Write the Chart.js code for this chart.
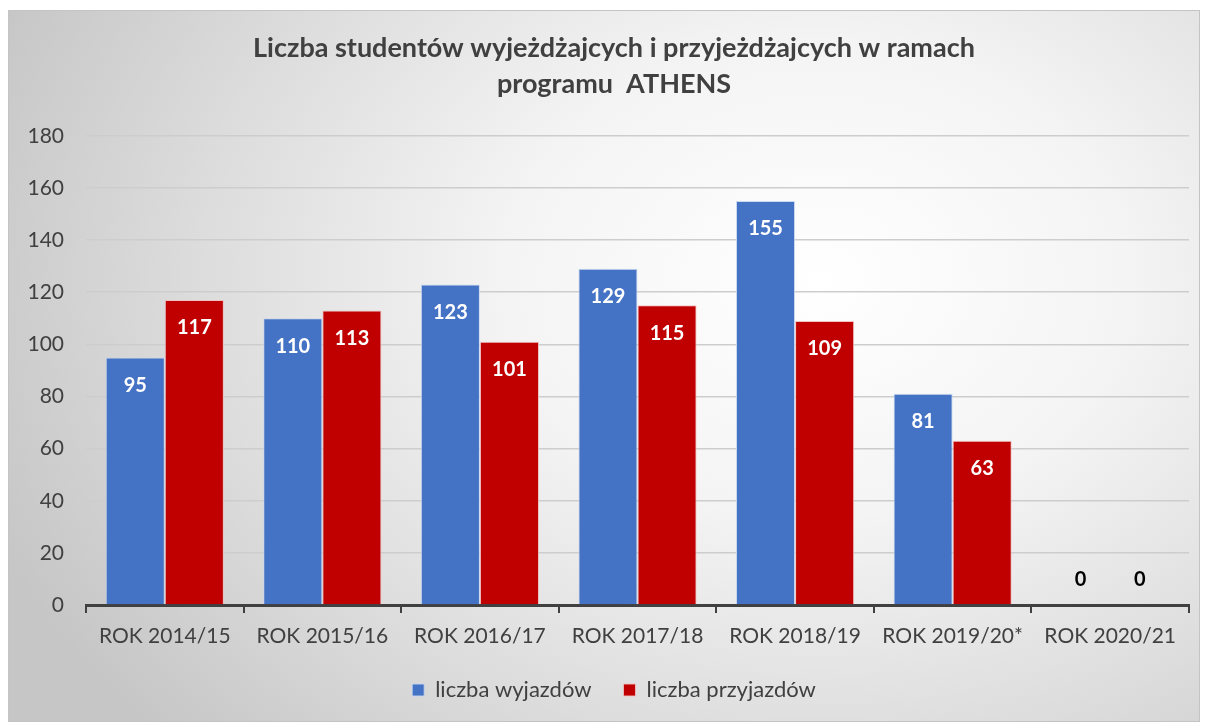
<!DOCTYPE html>
<html>
<head>
<meta charset="utf-8">
<script src="https://cdn.jsdelivr.net/npm/chart.js@4/dist/chart.umd.min.js"></script>
<style>
  html, body { margin: 0; padding: 0; background: #fff; overflow: hidden; }
  #box {
    position: absolute; left: 8px; top: 10px; width: 1192px; height: 712px;
    box-sizing: border-box; border: 1px solid #c4c4c4;
    background: radial-gradient(ellipse 75% 95% at 68% 38%, #ffffff 0%, #f4f4f4 35%, #dcdcdc 70%, #c6c6c6 100%);
  }
  #chart { display: block; }
</style>
</head>
<body>
<div id="box"><canvas id="chart" width="1190" height="710"></canvas></div>
<script>
const categories = ['ROK 2014/15', 'ROK 2015/16', 'ROK 2016/17', 'ROK 2017/18', 'ROK 2018/19', 'ROK 2019/20*', 'ROK 2020/21'];
const wyjazdy = [95, 110, 123, 129, 155, 81, 0];
const przyjazdy = [117, 113, 101, 115, 109, 63, 0];
const titleLines = ['Liczba studentów wyjeżdżajcych i przyjeżdżajcych w ramach', 'programu  ATHENS'];

const FONT = 'Lato, "Open Sans", sans-serif';

// value labels inside the top of each bar (black above the axis for zeros)
const barLabels = {
  id: 'barLabels',
  afterLayout(chart) {
    // let the y tick labels spill into the left padding instead of being clipped
    chart.scales.y.left = 0;
  },
  afterDatasetsDraw(chart) {
    const ctx = chart.ctx;
    ctx.save();
    ctx.font = 'bold 20px ' + FONT;
    ctx.textAlign = 'center';
    ctx.textBaseline = 'middle';
    chart.data.datasets.forEach((ds, i) => {
      chart.getDatasetMeta(i).data.forEach((bar, j) => {
        const v = ds.data[j];
        if (v > 0) {
          ctx.fillStyle = '#ffffff';
          ctx.fillText(String(v), bar.x, bar.y + 28);
        } else {
          ctx.fillStyle = '#000000';
          ctx.fillText(String(v), bar.x, bar.y - 25);
        }
      });
    });
    ctx.restore();
  }
};

new Chart(document.getElementById('chart'), {
  type: 'bar',
  data: {
    labels: categories,
    datasets: [
      { label: 'liczba wyjazdów', data: wyjazdy, backgroundColor: '#4472C4', borderColor: 'rgba(200,215,240,0.9)', borderWidth: 1 },
      { label: 'liczba przyjazdów', data: przyjazdy, backgroundColor: '#C00000', borderColor: 'rgba(240,190,190,0.9)', borderWidth: 1 }
    ]
  },
  options: {
    responsive: false,
    animation: false,
    datasets: { bar: { categoryPercentage: 0.75, barPercentage: 1 } },
    layout: { padding: { left: 30, right: 10, top: 0, bottom: 10 } },
    plugins: {
      title: {
        display: true,
        text: titleLines,
        color: '#404040',
        font: { family: FONT, size: 27, weight: 'bold', lineHeight: 1.33 },
        padding: { top: 19, bottom: 34 }
      },
      legend: {
        position: 'bottom',
        labels: {
          color: '#404040',
          font: { family: FONT, size: 22 },
          boxWidth: 12, boxHeight: 12,
          padding: 32
        }
      },
      tooltip: { enabled: false }
    },
    scales: {
      x: {
        grid: { offset: true, drawOnChartArea: false, tickLength: 8, color: '#404040', lineWidth: 2 },
        border: { display: true, color: '#404040', width: 3 },
        ticks: { color: '#404040', font: { family: FONT, size: 21 }, padding: 11, maxRotation: 0, autoSkip: false },
        afterFit(scale) { scale.height = 42; }
      },
      y: {
        min: 0, max: 180,
        ticks: { stepSize: 20, color: '#404040', font: { family: FONT, size: 21 }, padding: 22 },
        grid: { color: '#cdcdcd', lineWidth: 1.5, drawTicks: false },
        border: { display: false },
        afterFit(scale) { scale.width = 47; }
      }
    }
  },
  plugins: [barLabels]
});
</script>
</body>
</html>
